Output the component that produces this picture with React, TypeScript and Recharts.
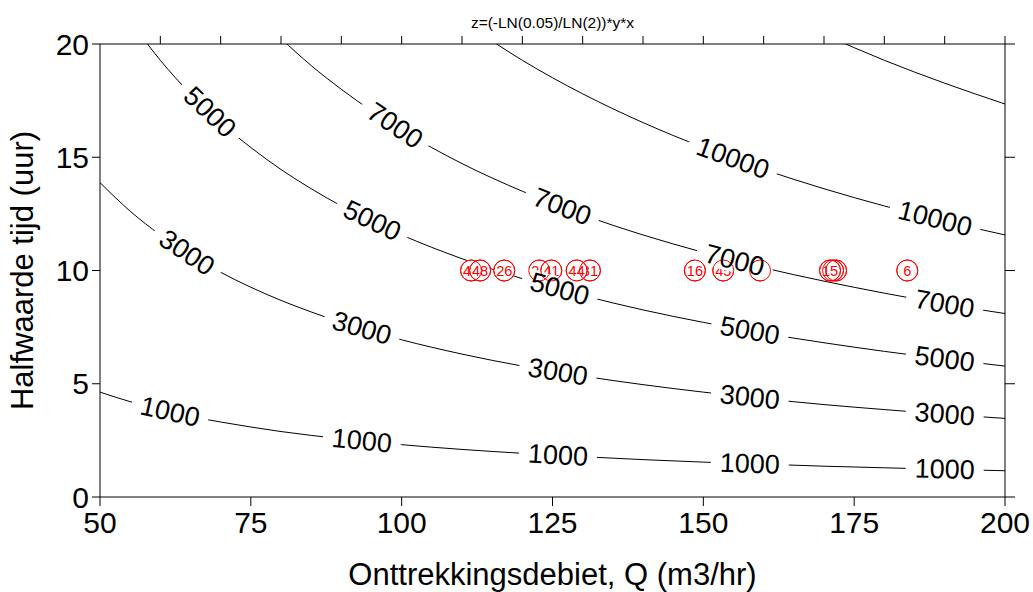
import { ComposedChart, Line, Scatter, XAxis, YAxis } from 'recharts';

const W = 1033;
const H = 592;
const FONT = '"Liberation Sans", Arial, Helvetica, sans-serif';

// plot frame in pixels
const PLOT_LEFT = 100;
const PLOT_TOP = 44;
const PLOT_RIGHT = 1005;
const PLOT_BOTTOM = 497;

const Q_MIN = 50;
const Q_MAX = 200;
const T_MIN = 0;
const T_MAX = 20;

const qTicks = [50, 75, 100, 125, 150, 175, 200];
const qMinorTicks = [60, 70, 80, 90, 100, 110, 120, 130, 140, 150, 160, 170, 180, 190, 200];
const tTicks = [0, 5, 10, 15, 20];

// Q (m3/hr) at which the contours are sampled
const qGrid = [50, 55, 60, 65, 70, 75, 80, 85, 90, 100, 110, 120, 130, 140, 150, 160, 170, 180, 190, 200];

// half-life (hr) along each z contour, null where the curve is above the plot
const z1000 = [4.63, 4.21, 3.86, 3.56, 3.31, 3.09, 2.89, 2.72, 2.57, 2.31, 2.1, 1.93, 1.78, 1.65, 1.54, 1.45, 1.36, 1.29, 1.22, 1.16];
const z3000 = [13.88, 12.62, 11.57, 10.68, 9.92, 9.26, 8.68, 8.17, 7.71, 6.94, 6.31, 5.78, 5.34, 4.96, 4.63, 4.34, 4.08, 3.86, 3.65, 3.47];
const z5000 = [null, 21.03, 19.28, 17.8, 16.53, 15.43, 14.46, 13.61, 12.85, 11.57, 10.52, 9.64, 8.9, 8.26, 7.71, 7.23, 6.81, 6.43, 6.09, 5.78];
const z7000 = [null, null, null, null, null, 21.6, 20.25, 19.05, 18.0, 16.2, 14.72, 13.5, 12.46, 11.57, 10.8, 10.12, 9.53, 9.0, 8.52, 8.1];
const z10000 = [null, null, null, null, null, null, null, null, null, null, 21.03, 19.28, 17.8, 16.53, 15.43, 14.46, 13.61, 12.85, 12.18, 11.57];
const z15000 = [null, null, null, null, null, null, null, null, null, null, null, null, null, null, null, null, 20.42, 19.28, 18.27, 17.35];

// Q positions of the inline contour labels
const labelQ1000 = [61.6, 93.4, 125.9, 157.7, 190];
const labelQ3000 = [64.4, 93.4, 125.9, 157.7, 190];
const labelQ5000 = [68.2, 95.1, 126.2, 157.7, 190];
const labelQ7000 = [98.9, 126.6, 155.2, 190];
const labelQ10000 = [154.9, 188.4];
const labelQ15000: number[] = [];

// wells: id, pumping rate, half-life (later entries are drawn on top)
const wellIds = ['44', '48', '26', '24', '41', '31', '44', '16', '45', '21', '', '', '15', '6'];
const wellQ = [111.5, 113.0, 117.0, 122.8, 124.8, 131.2, 129.0, 148.6, 153.3, 159.4, 172.0, 171.5, 171.0, 183.8];
const wellT = [10, 10, 10, 10, 10, 10, 10, 10, 10, 10, 10, 10, 10, 10];

const contours = [
  { key: 'c1000', level: 1000, values: z1000, labelsAt: labelQ1000 },
  { key: 'c3000', level: 3000, values: z3000, labelsAt: labelQ3000 },
  { key: 'c5000', level: 5000, values: z5000, labelsAt: labelQ5000 },
  { key: 'c7000', level: 7000, values: z7000, labelsAt: labelQ7000 },
  { key: 'c10000', level: 10000, values: z10000, labelsAt: labelQ10000 },
  { key: 'c15000', level: 15000, values: z15000, labelsAt: labelQ15000 },
];

const table = qGrid.map((q, i) => {
  const row: Record<string, number | null> = { q };
  contours.forEach((c) => {
    row[c.key] = c.values[i];
  });
  return row;
});

const pxPerQ = (PLOT_RIGHT - PLOT_LEFT) / (Q_MAX - Q_MIN);
const pxPerT = (PLOT_BOTTOM - PLOT_TOP) / (T_MAX - T_MIN);

// position and screen angle of a label sitting on a contour
function pointOn(values: (number | null)[], q: number) {
  for (let i = 0; i < qGrid.length - 1; i++) {
    const a = values[i];
    const b = values[i + 1];
    if (a == null || b == null) continue;
    if (q >= qGrid[i] && q <= qGrid[i + 1]) {
      const dq = qGrid[i + 1] - qGrid[i];
      const t = a + ((b - a) * (q - qGrid[i])) / dq;
      const slope = (b - a) / dq;
      const angle = (Math.atan((-slope * pxPerT) / pxPerQ) * 180) / Math.PI;
      return { t, angle };
    }
  }
  return { t: 0, angle: 0 };
}

const contourLabels = contours.flatMap((c) =>
  c.labelsAt.map((q) => {
    const p = pointOn(c.values, q);
    return { q, t: p.t, angle: p.angle, text: String(c.level) };
  })
);

const wells = wellIds.map((id, i) => ({ id, q: wellQ[i], t: wellT[i] }));

const LABEL_SIZE = 27;
const MARKER_R = 10.5;
const RED = '#ff0000';

const LabelGap = (p: any) => {
  const w = p.payload.text.length * LABEL_SIZE * 0.556 + 18;
  const h = 24;
  return (
    <rect
      x={p.cx - w / 2}
      y={p.cy - h / 2}
      width={w}
      height={h}
      fill="#ffffff"
      transform={`rotate(${p.payload.angle} ${p.cx} ${p.cy})`}
    />
  );
};

const LabelText = (p: any) => (
  <text
    x={p.cx}
    y={p.cy}
    textAnchor="middle"
    dominantBaseline="central"
    fontSize={LABEL_SIZE}
    fontFamily={FONT}
    fill="#000"
    transform={`rotate(${p.payload.angle} ${p.cx} ${p.cy})`}
  >
    {p.payload.text}
  </text>
);

// filled circle with id; overlapping wells hide each other
const WellMarker = (p: any) => (
  <g>
    <circle cx={p.cx} cy={p.cy} r={MARKER_R} fill="#ffffff" stroke={RED} strokeWidth={1} />
    {p.payload.id ? (
      <text
        x={p.cx}
        y={p.cy}
        textAnchor="middle"
        dominantBaseline="central"
        fontSize={14.5}
        fontFamily={FONT}
        fill={RED}
      >
        {p.payload.id}
      </text>
    ) : null}
  </g>
);

// outline only, redrawn above the label gaps
const WellRing = (p: any) => (
  <circle cx={p.cx} cy={p.cy} r={MARKER_R} fill="none" stroke={RED} strokeWidth={1} />
);

const NoTick = () => <g />;

const tickStyle = { fontSize: 30, fill: '#000', fontFamily: FONT };
const axisStroke = { stroke: '#000', strokeWidth: 1 };

export default function App() {
  return (
    <div style={{ width: W, height: H }}>
      <style>{'body{margin:0}'}</style>
      <ComposedChart
        width={W}
        height={H}
        data={table}
        margin={{ top: PLOT_TOP - 10, right: W - PLOT_RIGHT - 10, bottom: 0, left: 0 }}
        style={{ fontFamily: FONT, background: '#fff' }}
      >
        <XAxis
          dataKey="q"
          type="number"
          domain={[Q_MIN, Q_MAX]}
          ticks={qTicks}
          allowDataOverflow
          height={H - PLOT_BOTTOM}
          tick={tickStyle}
          tickSize={9}
          tickMargin={6}
          axisLine={axisStroke}
          tickLine={axisStroke}
          label={{
            content: () => (
              <text
                x={(PLOT_LEFT + PLOT_RIGHT) / 2}
                y={585}
                textAnchor="middle"
                fontSize={31}
                fontFamily={FONT}
                fill="#000"
              >
                Onttrekkingsdebiet, Q (m3/hr)
              </text>
            ),
          }}
        />
        <XAxis
          xAxisId="top"
          orientation="top"
          dataKey="q"
          type="number"
          domain={[Q_MIN, Q_MAX]}
          ticks={qMinorTicks}
          allowDataOverflow
          height={10}
          tick={NoTick}
          tickSize={8}
          axisLine={axisStroke}
          tickLine={axisStroke}
          label={{
            content: () => (
              <text
                x={(PLOT_LEFT + PLOT_RIGHT) / 2}
                y={28}
                textAnchor="middle"
                fontSize={15.5}
                fontFamily={FONT}
                fill="#000"
              >
                z=(-LN(0.05)/LN(2))*y*x
              </text>
            ),
          }}
        />
        <YAxis
          dataKey="t"
          type="number"
          domain={[T_MIN, T_MAX]}
          ticks={tTicks}
          allowDataOverflow
          width={PLOT_LEFT}
          tick={tickStyle}
          tickSize={8}
          tickMargin={3}
          axisLine={axisStroke}
          tickLine={axisStroke}
          label={{
            content: () => (
              <text
                x={33}
                y={(PLOT_TOP + PLOT_BOTTOM) / 2}
                textAnchor="middle"
                fontSize={31}
                fontFamily={FONT}
                fill="#000"
                transform={`rotate(-90 33 ${(PLOT_TOP + PLOT_BOTTOM) / 2})`}
              >
                Halfwaarde tijd (uur)
              </text>
            ),
          }}
        />
        <YAxis
          yAxisId="right"
          orientation="right"
          dataKey="t"
          type="number"
          domain={[T_MIN, T_MAX]}
          ticks={tTicks}
          allowDataOverflow
          width={10}
          tick={NoTick}
          tickSize={10}
          axisLine={axisStroke}
          tickLine={axisStroke}
        />
        <Scatter data={wells} dataKey="t" shape={WellMarker} isAnimationActive={false} />
        {contours.map((c) => (
          <Line
            key={c.key}
            dataKey={c.key}
            type="monotone"
            stroke="#000"
            strokeWidth={1}
            dot={false}
            activeDot={false}
            connectNulls={false}
            isAnimationActive={false}
          />
        ))}
        <Scatter data={contourLabels} dataKey="t" shape={LabelGap} isAnimationActive={false} />
        <Scatter
          data={wells}
          dataKey="t"
          xAxisId="top"
          yAxisId="right"
          shape={WellRing}
          isAnimationActive={false}
        />
        <Scatter data={contourLabels} dataKey="t" shape={LabelText} isAnimationActive={false} />
      </ComposedChart>
    </div>
  );
}
